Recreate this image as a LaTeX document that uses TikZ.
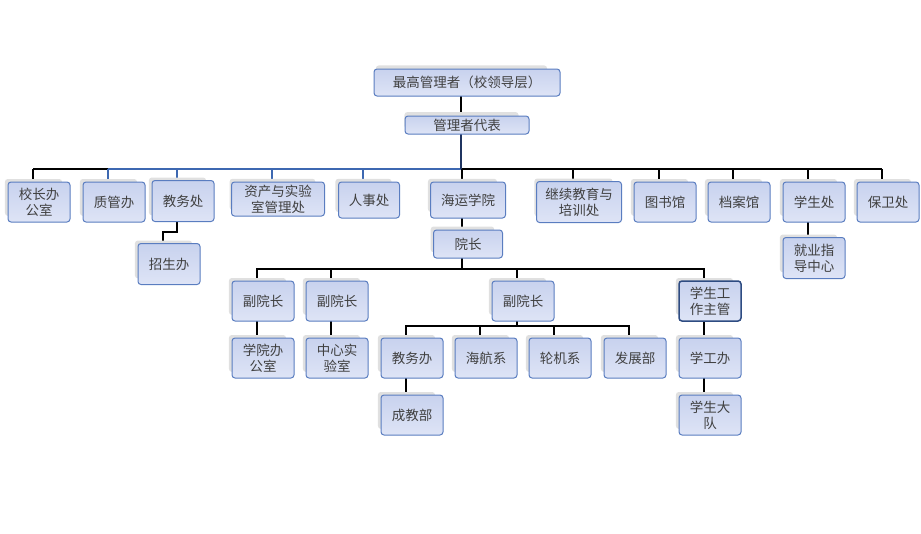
\documentclass[tikz,border=0pt]{standalone}
\usepackage{fontspec}
\newfontfamily\cjk{Noto Sans CJK SC}
\usetikzlibrary{shadows,backgrounds}
\definecolor{boxtop}{HTML}{C8D2EE}
\definecolor{boxbot}{HTML}{DEE4F6}
\definecolor{boxline}{HTML}{5A7DC0}
\definecolor{boxdark}{HTML}{2E4C82}
\definecolor{textgray}{HTML}{404040}
\definecolor{lineblue}{HTML}{3D68B1}
\definecolor{linenavy}{HTML}{1F3460}
\tikzset{
    box/.style={draw=boxline, line width=1pt, rounded corners=3pt,
        top color=boxtop, bottom color=boxbot, text=textgray,
        align=center, inner sep=0pt, minimum width=62pt, minimum height=40pt,
        font=\cjk\fontsize{13.5pt}{16pt}\selectfont,
        general shadow={fill=black!12, shadow xshift=-6pt, shadow yshift=5pt, shadow scale=0.92}},
    boxbold/.style={box, draw=boxdark, line width=1.5pt},
    link/.style={draw=black, line width=1.5pt},
    bluelink/.style={draw=lineblue, line width=1.5pt},
    trunk/.style={draw=linenavy, line width=2.2pt},
}

\begin{document}
\begin{tikzpicture}[x=1pt,y=-1pt]
		\useasboundingbox (0,0) rectangle (921,533);
		% top
		\node[box, minimum width=186pt, minimum height=27pt] (zgl) at (467,82.5) {最高管理者（校领导层）};
		\node[box, minimum width=124pt, minimum height=18pt] (glz) at (467,125) {管理者代表};
		% first row
		\node[box] (xzb) at (39,202) {校长办\\公室};
		\node[box] (zgb) at (114,202) {质管办};
		\node[box, minimum height=41pt] (jwc) at (183,201) {教务处};
		\node[box, minimum width=93pt, minimum height=34pt] (zcc) at (278,199) {资产与实验\\室管理处};
		\node[box, minimum width=61pt, minimum height=36pt] (rsc) at (369,200) {人事处};
		\node[box, minimum width=75pt, minimum height=36pt] (hyxy) at (468,200) {海运学院};
		\node[box, minimum width=85pt, minimum height=41pt] (jxjy) at (579,202) {继续教育与\\培训处};
		\node[box] (tsg) at (665,202) {图书馆};
		\node[box] (dag) at (739,202) {档案馆};
		\node[box] (xsc) at (814,202) {学生处};
		\node[box] (bwc) at (888,202) {保卫处};
		\node[box, minimum height=41pt] (zsb) at (169,264) {招生办};
		\node[box, minimum height=41pt] (jyzd) at (814,258) {就业指\\导中心};
		% college
		\node[box, minimum width=69pt, minimum height=28pt] (yz) at (468,244) {院长};
		\node[box] (fyz1) at (263,301) {副院长};
		\node[box] (fyz2) at (337,301) {副院长};
		\node[box] (fyz3) at (523,301) {副院长};
		\node[boxbold] (xsgz) at (710,301) {学生工\\作主管};
		\node[box] (xybgs) at (263,358) {学院办\\公室};
		\node[box] (zxsys) at (337,358) {中心实\\验室};
		\node[box] (jwb) at (412,358) {教务办};
		\node[box] (hhx) at (486,358) {海航系};
		\node[box] (ljx) at (560,358) {轮机系};
		\node[box] (fzb) at (635,358) {发展部};
		\node[box] (xgb) at (710,358) {学工办};
		\node[box] (cjb) at (412,415) {成教部};
		\node[box] (xsdd) at (710,415) {学生大\\队};
		\coordinate (bus) at (0,169);
		\coordinate (bus2) at (0,269);
		\coordinate (bus3) at (0,326);
		\begin{scope}[on background layer]
		\draw[link] ([xshift=-6pt]zgl.center) -- ([xshift=-6pt]glz.center);
		\draw[link] ([xshift=-6pt]xzb.center |- bus) -- ([xshift=-6pt]bwc.center |- bus);
		\draw[bluelink] ([xshift=-6pt]zgb.center |- bus) -- ([xshift=-6pt]glz.center |- bus);
		\draw[trunk] ([xshift=-6pt]glz.center) -- ([xshift=-6pt]glz.center |- bus);
		\foreach \n in {xzb,hyxy,jxjy,tsg,dag,xsc,bwc}
			\draw[link] ([xshift=-6pt]\n.center) -- ([xshift=-6pt]\n.center |- bus);
		\foreach \n in {zgb,jwc,zcc,rsc}
			\draw[bluelink] ([xshift=-6pt]\n.center) -- ([xshift=-6pt]\n.center |- bus);
		\draw[link] ([xshift=-6pt]jwc.center) -- ++(0,31) -| ([xshift=-6pt]zsb.center);
		\draw[link] ([xshift=-6pt]xsc.center) -- ([xshift=-6pt]jyzd.center);
		\draw[link] ([xshift=-6pt]hyxy.center) -- ([xshift=-6pt]yz.center);
		\draw[trunk, draw=black] ([xshift=-6pt]yz.center) -- ([xshift=-6pt]yz.center |- bus2);
		\foreach \n in {fyz1,fyz2,fyz3,xsgz}
			\draw[link] ([xshift=-6pt]yz.center) |- ([xshift=-6pt]\n.center |- bus2) -- ([xshift=-6pt]\n.center);
		\foreach \n in {jwb,hhx,ljx,fzb}
			\draw[link] ([xshift=-6pt]fyz3.center) |- ([xshift=-6pt]\n.center |- bus3) -- ([xshift=-6pt]\n.center);
		\draw[link] ([xshift=-6pt]fyz1.center) -- ([xshift=-6pt]xybgs.center);
		\draw[link] ([xshift=-6pt]fyz2.center) -- ([xshift=-6pt]zxsys.center);
		\draw[link] ([xshift=-6pt]jwb.center) -- ([xshift=-6pt]cjb.center);
		\draw[link] ([xshift=-6pt]xsgz.center) -- ([xshift=-6pt]xsdd.center);
		\end{scope}
	\end{tikzpicture}
\end{document}
